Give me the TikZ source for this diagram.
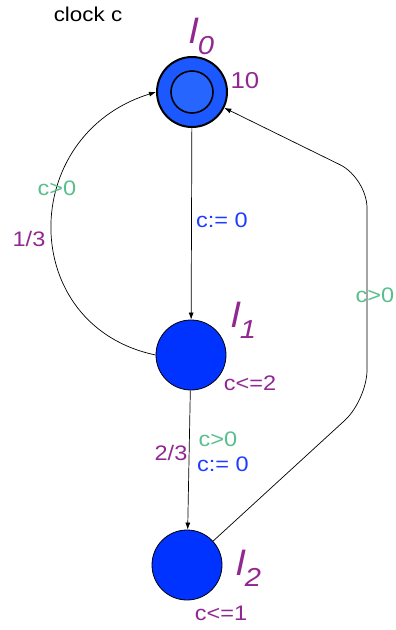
\documentclass[tikz,border=0pt]{standalone}
\usepackage{fontspec}
\setmainfont{Liberation Sans}[FakeStretch=1.12]
\usetikzlibrary{arrows.meta,positioning}

\definecolor{locblue}{RGB}{0,51,255}
\definecolor{initouter}{RGB}{28,88,255}
\definecolor{initinner}{RGB}{38,102,255}
\definecolor{invpurple}{RGB}{145,40,145}
\definecolor{guardgreen}{RGB}{90,190,140}
\definecolor{resetblue}{RGB}{30,60,255}

\newcommand{\locname}[1]{{\fontsize{35}{35}\selectfont\itshape l\raisebox{-11pt}{\fontsize{26}{26}\selectfont #1}}}

\begin{document}
\begin{tikzpicture}[x=1pt, y=-1pt,
    location/.style={circle, draw, fill=locblue, minimum size=70pt, inner sep=0pt, line width=0.8pt},
    initloc/.style={location, fill=initouter, line width=2pt},
    innerloc/.style={circle, draw, fill=initinner, minimum size=42pt, inner sep=0pt, line width=1.6pt},
    lbl/.style={font=\fontsize{21}{21}\selectfont, inner sep=0pt},
    locname/.style={anchor=base west, inner sep=0pt, text=invpurple},
    inv/.style={lbl, text=invpurple},
    prob/.style={lbl, text=invpurple},
    guard/.style={lbl, text=guardgreen},
    reset/.style={lbl, text=resetblue},
    arrow/.style={-{Latex[length=7pt,width=5pt]}, line width=0.7pt}
]
    \useasboundingbox (0,0) rectangle (396,630);

    \node[lbl, font=\fontsize{20}{20}\selectfont] (clk) at (88,14) {clock c};

    % locations
    \node[initloc] (l0) at (192,92) {};
    \node[innerloc] (l0in) at (l0) {};
    \node[location] (l1) at (191,355) {};
    \node[location] (l2) at (187,565) {};

    \node[locname] (l0name) at (189,43) {\locname{0}};
    \node[locname] (l1name) at (231,327) {\locname{1}};
    \node[locname] (l2name) at (236,575) {\locname{2}};

    % invariants
    \node[inv, font=\fontsize{23}{23}\selectfont] (l0inv) at (245,81) {10};
    \node[inv] (l1inv) at (250,383) {c<=2};
    \node[inv] (l2inv) at (221,613) {c<=1};

    % edges
    \coordinate (bendlow) at (367,400);
    \coordinate (bendhigh) at (367,178);
    \draw[arrow] (l0) -- (l1);
    \draw[arrow] (l1.west) .. controls (17,326) and (17,135) .. (l0.west);
    \draw[arrow] (l1) -- (l2);
    \draw[arrow, rounded corners=30pt] (l2) -- (bendlow) -- (bendhigh) -- (l0);

    % edge labels
    \node[reset] (r01) at (222,220) {c:= 0};
    \node[guard] (g10) at (57,188) {c>0};
    \node[prob] (p10) at (29,239) {1/3};
    \node[guard] (g12) at (218,439) {c>0};
    \node[reset] (r12) at (223,464) {c:= 0};
    \node[prob] (p12) at (171,453) {2/3};
    \node[guard] (g20) at (375,295) {c>0};
\end{tikzpicture}
\end{document}
